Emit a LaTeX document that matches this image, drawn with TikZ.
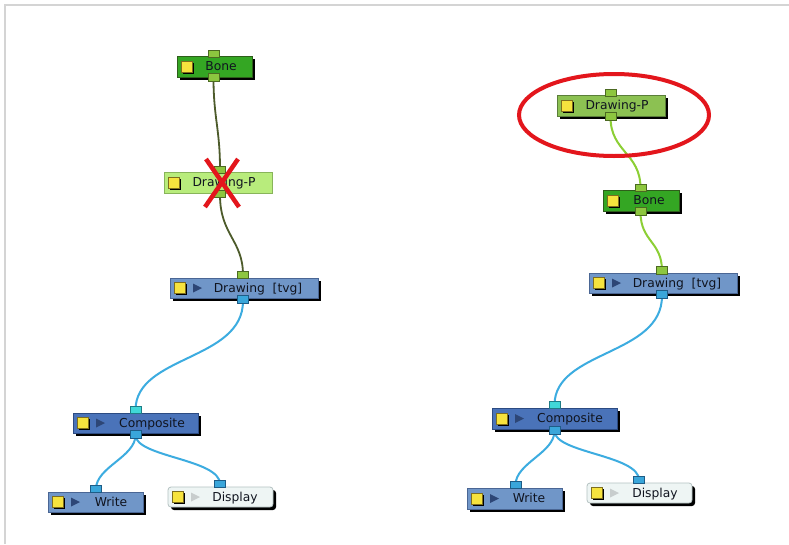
\documentclass[tikz,border=0pt]{standalone}
\usepackage{fontspec}
\setmainfont{DejaVu Sans}
\usetikzlibrary{shadows}
\definecolor{bonefill}{HTML}{34A623}
\definecolor{boneline}{HTML}{2E5E1A}
\definecolor{dpLfill}{HTML}{B8EC7C}
\definecolor{dpLline}{HTML}{88B45A}
\definecolor{dpRfill}{HTML}{8CC152}
\definecolor{dpRline}{HTML}{5B7E3A}
\definecolor{tvgfill}{HTML}{7096C8}
\definecolor{tvgline}{HTML}{4A6694}
\definecolor{compfill}{HTML}{4A73B9}
\definecolor{compline}{HTML}{2C4B82}
\definecolor{dispfill}{HTML}{EEF5F4}
\definecolor{displine}{HTML}{B5C2C2}
\definecolor{portg}{HTML}{8DC63F}
\definecolor{portgline}{HTML}{4C6A22}
\definecolor{portb}{HTML}{3AA6DA}
\definecolor{portbline}{HTML}{1E5C86}
\definecolor{portc}{HTML}{40D8D8}
\definecolor{portcline}{HTML}{1E7C86}
\definecolor{wireLg}{HTML}{4D5B2B}
\definecolor{wireRg}{HTML}{8CCF35}
\definecolor{wireb}{HTML}{3CACE0}
\definecolor{yelfill}{HTML}{F6E33E}
\definecolor{yelline}{HTML}{7E6E1E}
\definecolor{tridark}{HTML}{2D4676}
\definecolor{trilight}{HTML}{C8CDCD}
\definecolor{redmark}{HTML}{E3161C}
\definecolor{framegray}{HTML}{D4D4D4}
\definecolor{txt}{HTML}{10141F}
\tikzset{
  shad/.style={drop shadow={shadow xshift=3pt,shadow yshift=-3pt,fill=black,opacity=1}},
  gbase/.style={rectangle,inner sep=0pt,line width=0.8pt},
  bonebox/.style={gbase,shad,fill=bonefill,draw=boneline},
  dpLbox/.style={gbase,fill=dpLfill,draw=dpLline},
  dpRbox/.style={gbase,shad,fill=dpRfill,draw=dpRline},
  tvgbox/.style={gbase,shad,fill=tvgfill,draw=tvgline},
  compbox/.style={gbase,shad,fill=compfill,draw=compline},
  dispbox/.style={gbase,shad,fill=dispfill,draw=displine,rounded corners=3pt},
  yel/.style={rectangle,inner sep=0pt,minimum size=11pt,fill=yelfill,draw=yelline,line width=0.6pt,
    drop shadow={shadow xshift=1.5pt,shadow yshift=-1.5pt,fill=black,opacity=1}},
  lbl/.style={inner sep=0pt,anchor=base,text=txt,font=\fontsize{12.3}{14}\selectfont},
  port/.style={rectangle,inner sep=0pt,minimum width=11pt,minimum height=7.5pt,line width=0.6pt},
  pg/.style={port,fill=portg,draw=portgline},
  pb/.style={port,fill=portb,draw=portbline},
  pc/.style={port,fill=portc,draw=portcline},
  wlg/.style={draw=wireLg,line width=1.8pt},
  wrg/.style={draw=wireRg,line width=2pt},
  wb/.style={draw=wireb,line width=2pt},
}
\newcommand{\gbox}[9]{%
  \node[#6,minimum width={(#4-#2)*1pt},minimum height={(#5-#3)*1pt}] (#1) at ({(#2+#4)/2},{(#3+#5)/2}) {};
  \node[yel] (#1-y) at ({#2+10},{(#3+#5)/2}) {};
  \node[lbl] (#1-t) at (#7,{(#3+#5)/2+4.4}) {#8};
  \ifx&#9&\else\fill[#9] ({#2+23},{(#3+#5)/2-4.5}) -- ++(9,4.5) -- ++(-9,4.5) -- cycle;\fi
}
\begin{document}
\begin{tikzpicture}[x=1pt,y=-1pt]
\useasboundingbox (0,0) rectangle (789,544);
\fill[white] (0,0) rectangle (789,544);
\draw[framegray,line width=2pt] (5,544) -- (5,5) -- (789,5);

% ---------- wires (left) ----------
\coordinate (Lbone-outc) at (213.5,78);
\coordinate (Ldp-inc) at (220,169);
\coordinate (Ldp-outc) at (220,195);
\coordinate (Ltvg-inc) at (243,275);
\draw[wlg] (Lbone-outc) .. controls +(0,40) and +(0,-40) .. (Ldp-inc);
\draw[wlg] (Ldp-outc) .. controls +(0,40) and +(0,-35) .. (Ltvg-inc);
\coordinate (Ltvg-outc) at (243,301);
\coordinate (Lcomp-inc) at (135.5,410);
\coordinate (Lcomp-outc) at (135.5,435);
\coordinate (Lwrite-inc) at (96,489);
\coordinate (Ldisp-inc) at (220,484);
\draw[wb] (Ltvg-outc) .. controls +(0,60) and +(0,-55) .. (Lcomp-inc);
\draw[wb] (Lcomp-outc) .. controls +(0,22) and +(0,-22) .. (Lwrite-inc);
\draw[wb] (Lcomp-outc) .. controls +(0,22) and +(0,-25) .. (Ldisp-inc);

% ---------- wires (right) ----------
\coordinate (Rdp-outc) at (610.5,117);
\coordinate (Rbone-inc) at (640.5,188);
\coordinate (Rbone-outc) at (640.5,212);
\coordinate (Rtvg-inc) at (662,271);
\draw[wrg] (Rdp-outc) .. controls +(0,35) and +(0,-35) .. (Rbone-inc);
\draw[wrg] (Rbone-outc) .. controls +(0,30) and +(0,-30) .. (Rtvg-inc);
\coordinate (Rtvg-outc) at (662,296);
\coordinate (Rcomp-inc) at (554.5,405);
\coordinate (Rcomp-outc) at (554.5,431);
\coordinate (Rwrite-inc) at (515.5,485);
\coordinate (Rdisp-inc) at (639,480);
\draw[wb] (Rtvg-outc) .. controls +(0,60) and +(0,-55) .. (Rcomp-inc);
\draw[wb] (Rcomp-outc) .. controls +(0,22) and +(0,-22) .. (Rwrite-inc);
\draw[wb] (Rcomp-outc) .. controls +(0,22) and +(0,-25) .. (Rdisp-inc);

% ---------- nodes (left) ----------
\gbox{Lbone}{177}{56}{252}{77}{bonebox}{221}{Bone}{}
\gbox{Ldp}{164}{172}{272}{193}{dpLbox}{224}{Drawing-P}{}
\gbox{Ltvg}{170}{278}{318}{298}{tvgbox}{258}{Drawing\ \ [tvg]}{tridark}
\gbox{Lcomp}{73}{413}{198}{433}{compbox}{152}{Composite}{tridark}
\gbox{Lwrite}{48}{492}{143}{512}{tvgbox}{111}{Write}{tridark}
\gbox{Ldisp}{168}{487}{273}{507}{dispbox}{235}{Display}{trilight}

\node[pg] (Lbone-in) at (213.5,54) {};
\node[pg] (Lbone-out) at (213.5,77.5) {};
\node[pg] (Ldp-in) at (220,170) {};
\node[pg] (Ldp-out) at (220,194) {};
\node[pg] (Ltvg-in) at (243,275) {};
\node[pb] (Ltvg-out) at (243,299.5) {};
\node[pc] (Lcomp-in) at (135.5,410) {};
\node[pb] (Lcomp-out) at (135.5,434.5) {};
\node[pb] (Lwrite-in) at (96,489) {};
\node[pb] (Ldisp-in) at (220,484) {};

% red cross
\draw[redmark,line width=4.5pt] (206,159) -- (239,207);
\draw[redmark,line width=4.5pt] (238,159) -- (205,207);

% ---------- nodes (right) ----------
\gbox{Rdp}{557}{95}{665}{116}{dpRbox}{617}{Drawing-P}{}
\gbox{Rbone}{603}{190}{679}{211}{bonebox}{649}{Bone}{}
\gbox{Rtvg}{589}{273}{737}{293}{tvgbox}{677}{Drawing\ \ [tvg]}{tridark}
\gbox{Rcomp}{492}{408}{617}{429}{compbox}{570}{Composite}{tridark}
\gbox{Rwrite}{467}{488}{562}{509}{tvgbox}{529}{Write}{tridark}
\gbox{Rdisp}{587}{483}{692}{503}{dispbox}{655}{Display}{trilight}

\node[pg] (Rdp-in) at (610.5,93) {};
\node[pg] (Rdp-out) at (610.5,116.5) {};
\node[pg] (Rbone-in) at (640.5,188) {};
\node[pg] (Rbone-out) at (640.5,211.5) {};
\node[pg] (Rtvg-in) at (662,270.5) {};
\node[pb] (Rtvg-out) at (662,294.5) {};
\node[pc] (Rcomp-in) at (554.5,405) {};
\node[pb] (Rcomp-out) at (554.5,430.5) {};
\node[pb] (Rwrite-in) at (515.5,485) {};
\node[pb] (Rdisp-in) at (639,480) {};

% red ellipse
\draw[redmark,line width=4pt] (614,115) ellipse [x radius=95, y radius=41];
\end{tikzpicture}
\end{document}
